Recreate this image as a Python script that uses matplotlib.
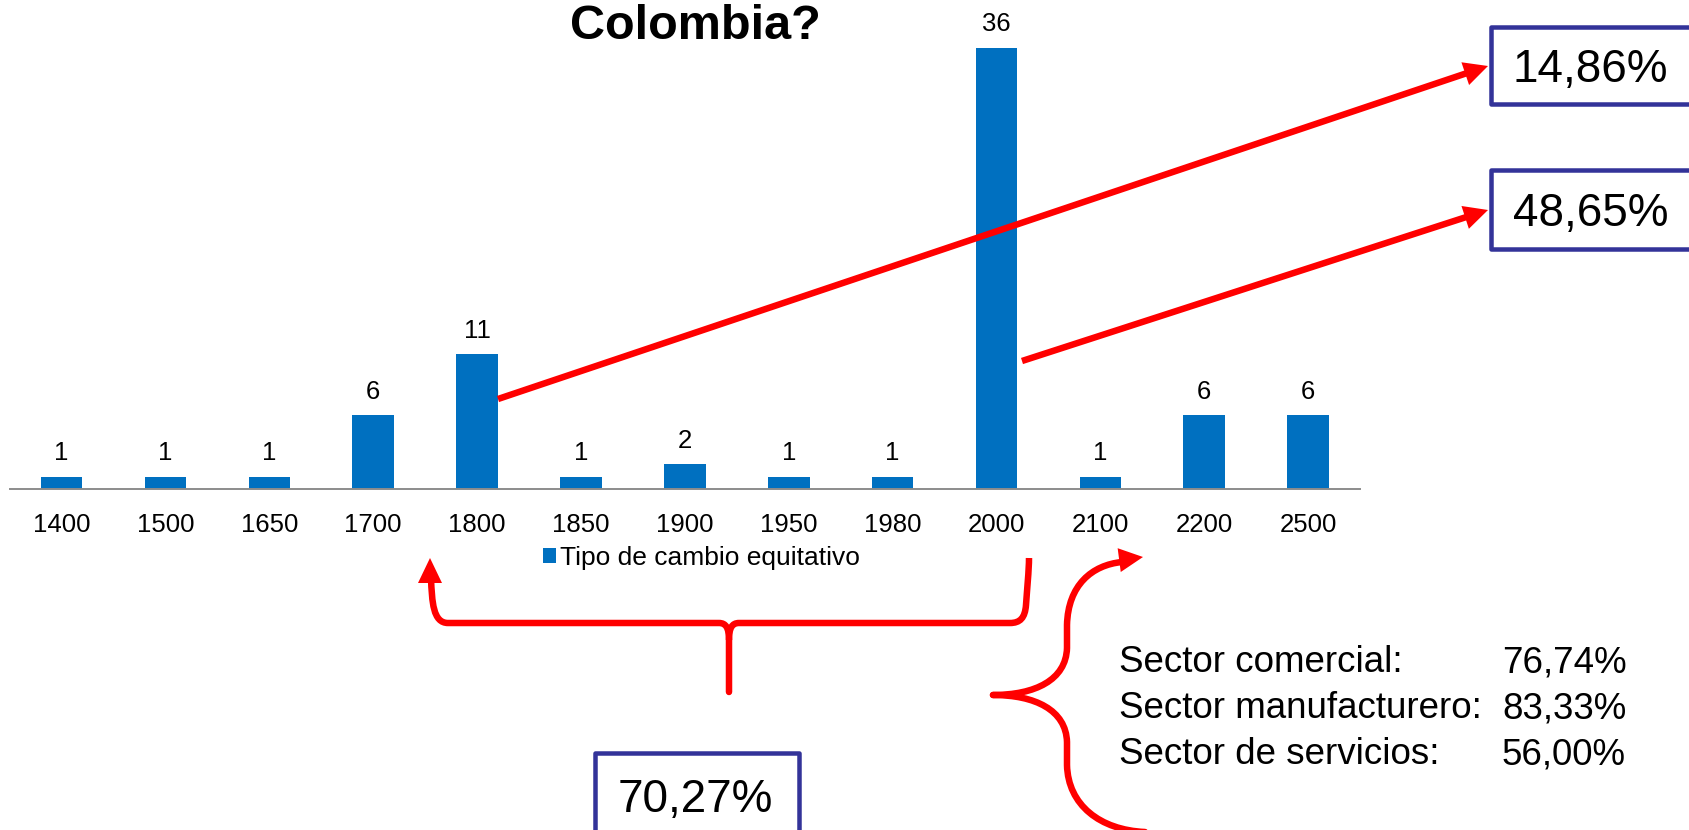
import matplotlib
matplotlib.use('Agg')
import matplotlib.pyplot as plt
from matplotlib.patches import Rectangle, Polygon, PathPatch
from matplotlib.path import Path
import numpy as np

# ---------------- data ----------------
categories = ['1400', '1500', '1650', '1700', '1800', '1850', '1900',
              '1950', '1980', '2000', '2100', '2200', '2500']
counts = [1, 1, 1, 6, 11, 1, 2, 1, 1, 36, 1, 6, 6]
series_name = 'Tipo de cambio equitativo'
title_text = 'Colombia?'
box_labels = ['14,86%', '48,65%', '70,27%']
sector_names = ['Sector comercial:', 'Sector manufacturero:', 'Sector de servicios:']
sector_values = ['76,74%', '83,33%', '56,00%']

# ---------------- figure ----------------
W, H = 1689, 830
plt.rcParams['font.family'] = ['Liberation Sans', 'DejaVu Sans']
fig = plt.figure(figsize=(W / 100, H / 100), dpi=100)
fig.patch.set_facecolor('white')

BLUE = '#0070C0'
RED = '#FF0000'
NAVY = '#333399'

ax = fig.add_axes([9.6 / W, 341 / H, 1350.5 / W, 490 / H])
x = np.arange(len(categories))
bars = ax.bar(x, counts, width=0.4, color=BLUE, label=series_name, zorder=2)
ax.set_xlim(-0.5, len(categories) - 0.5)
ax.set_ylim(0, 40)
ax.set_xticks(x)
ax.set_xticklabels(categories, fontsize=18.5, color='black')
ax.tick_params(axis='x', length=0, pad=17)
ax.set_yticks([])
for s in ['left', 'right', 'top']:
    ax.spines[s].set_visible(False)
ax.spines['bottom'].set_color('#8c8c8c')
ax.spines['bottom'].set_linewidth(1.4)
ax.patch.set_alpha(0)
for xi, v in zip(x, counts):
    ax.annotate(str(v), (xi, v), xytext=(0, 12), textcoords='offset points',
                ha='center', va='baseline', fontsize=18.5, color='black')

fig.text(695 / W, 1 - 39 / H, title_text, ha='center', va='baseline',
         fontsize=35, fontweight='bold', color='black')

fig.legend(handles=[bars], labels=[series_name], loc='center',
           bbox_to_anchor=(701.5 / W, 1 - 558 / H), bbox_transform=fig.transFigure,
           frameon=False, fontsize=19, handlelength=0.5, handleheight=0.5,
           handletextpad=0.15, borderpad=0, borderaxespad=0)

# ---------------- overlay (pixel coordinates) ----------------
ov = fig.add_axes([0, 0, 1, 1], zorder=5)
ov.set_xlim(0, W)
ov.set_ylim(H, 0)
ov.axis('off')
ov.patch.set_alpha(0)

LW = 6.5 * 72 / 100


def head(tip, direction, length=24, width=24):
    d = np.array(direction, float)
    d /= np.hypot(*d)
    n = np.array([-d[1], d[0]])
    tip = np.array(tip, float)
    base = tip - d * length
    pts = [tip, base + n * width / 2, base - n * width / 2]
    ov.add_patch(Polygon(pts, closed=True, facecolor=RED, edgecolor='none', zorder=7))
    return base


def straight_arrow(start, tip):
    start = np.array(start, float)
    tip = np.array(tip, float)
    base = head(tip, tip - start)
    end = base + (tip - base) * 0.3
    ov.plot([start[0], end[0]], [start[1], end[1]], color=RED, lw=LW,
            solid_capstyle='butt', zorder=6)


def curve(verts, codes, cap='round'):
    p = PathPatch(Path(verts, codes), facecolor='none', edgecolor=RED, lw=LW, zorder=6)
    p.set_capstyle(cap)
    p.set_joinstyle('round')
    ov.add_patch(p)


M, L, C = Path.MOVETO, Path.LINETO, Path.CURVE4

# straight arrows to the boxes
straight_arrow((498, 399), (1488, 66))
straight_arrow((1022, 361), (1488, 210))

# horizontal brace under the axis
curve([(431, 578), (432, 602), (433, 623), (448, 623), (719, 623),
       (726, 623), (729, 628), (729, 640), (729, 692)],
      [M, C, C, C, L, C, C, C, L], cap='round')
head((430, 558), (0, -1), length=25, width=24)
curve([(729, 640), (729, 628), (732, 623), (739, 623), (1010, 623),
       (1020, 623), (1025, 618), (1026, 605), (1027, 590), (1029, 570), (1029, 558)],
      [M, C, C, C, L, C, C, C, C, C, C], cap='butt')

# vertical brace on the right
curve([(1122, 562), (1092, 565), (1068, 585), (1067, 625), (1067, 648),
       (1066, 680), (1035, 695), (993, 695)],
      [M, C, C, C, L, C, C, C], cap='round')
curve([(993, 695), (1035, 695), (1066, 710), (1067, 742), (1067, 765),
       (1068, 805), (1100, 830), (1145, 832)],
      [M, C, C, C, L, C, C, C], cap='round')
head((1143, 557), (23, -3), length=24, width=24)

# boxes
BLW = 4.5 * 72 / 100
box_geom = [(1491.25, 27.25, 1693 - 1491.25, 103.75 - 27.25, 1590.5, 82),
            (1491.25, 170.25, 1693 - 1491.25, 248.75 - 170.25, 1590.5, 226),
            (595.25, 753.25, 798.75 - 595.25, 835 - 753.25, 695, 812)]
for (bx, by, bw, bh, tx, ty), lab in zip(box_geom, box_labels):
    r = Rectangle((bx, by), bw, bh, facecolor='white', edgecolor=NAVY, lw=BLW, zorder=8)
    r.set_joinstyle('round')
    ov.add_patch(r)
    ov.text(tx, ty, lab, ha='center', va='baseline', fontsize=33, color='black', zorder=9)

# sector text
for i, (n, v) in enumerate(zip(sector_names, sector_values)):
    yb = 672 + 46 * i
    ov.text(1119, yb, n, ha='left', va='baseline', fontsize=26.5, color='black')
    ov.text(1502, yb, v, ha='left', va='baseline', fontsize=26.5, color='black')

fig.savefig('out.png', dpi=100, facecolor='white')
